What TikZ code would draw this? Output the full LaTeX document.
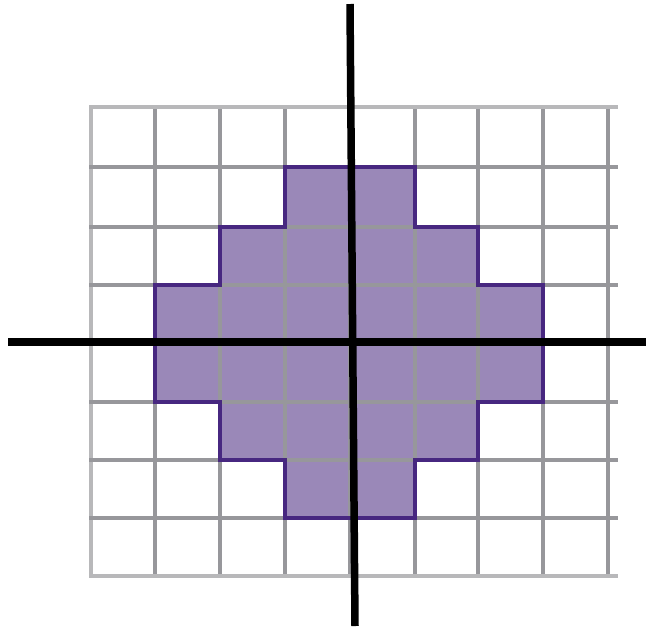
\documentclass[tikz,border=0pt]{standalone}
\definecolor{gridgray}{HTML}{97979B}
\definecolor{edgegray}{HTML}{B8B8BA}
\definecolor{purplefill}{HTML}{9A88B8}
\definecolor{purpleline}{HTML}{472780}
\tikzset{
  gridline/.style={draw=gridgray, line width=4pt},
  edgeline/.style={draw=edgegray, line width=4pt},
  shapefill/.style={fill=purplefill},
  shapeline/.style={draw=purpleline, line width=4.5pt, line join=miter},
  axisline/.style={draw=black, line width=7.5pt}
}
\begin{document}
\begin{tikzpicture}[x=1pt,y=-1pt]
\useasboundingbox (0,0) rectangle (646,630);
% purple shape fill
\fill[shapefill] (285,167) -- (415,167) -- (415,227) -- (478,227) -- (478,285) -- (543,285) -- (543,402) -- (478,402) -- (478,460) -- (415,460) -- (415,518) -- (285,518) -- (285,460) -- (220,460) -- (220,402) -- (155,402) -- (155,285) -- (220,285) -- (220,227) -- (285,227) -- cycle;
% grid
\foreach \x in {155,220,285,350,415,478,543,608} {\draw[gridline] (\x,107) -- (\x,577);}
\draw[edgeline] (91,107) -- (91,577);
\foreach \y in {167,227,285,343,402,460,518} {\draw[gridline] (89,\y) -- (618,\y);}
\draw[edgeline] (89,107) -- (618,107);
\draw[edgeline] (89,576) -- (618,576);
% purple outline
\draw[shapeline] (285,167) -- (415,167) -- (415,227) -- (478,227) -- (478,285) -- (543,285) -- (543,402) -- (478,402) -- (478,460) -- (415,460) -- (415,518) -- (285,518) -- (285,460) -- (220,460) -- (220,402) -- (155,402) -- (155,285) -- (220,285) -- (220,227) -- (285,227) -- cycle;
% axes
\coordinate (xl) at (8,342);
\coordinate (xr) at (646,342);
\coordinate (yt) at (350,4);
\coordinate (yb) at (355,626);
\draw[axisline] (xl) -- (xr);
\draw[axisline] (yt) -- (yb);
\end{tikzpicture}
\end{document}
